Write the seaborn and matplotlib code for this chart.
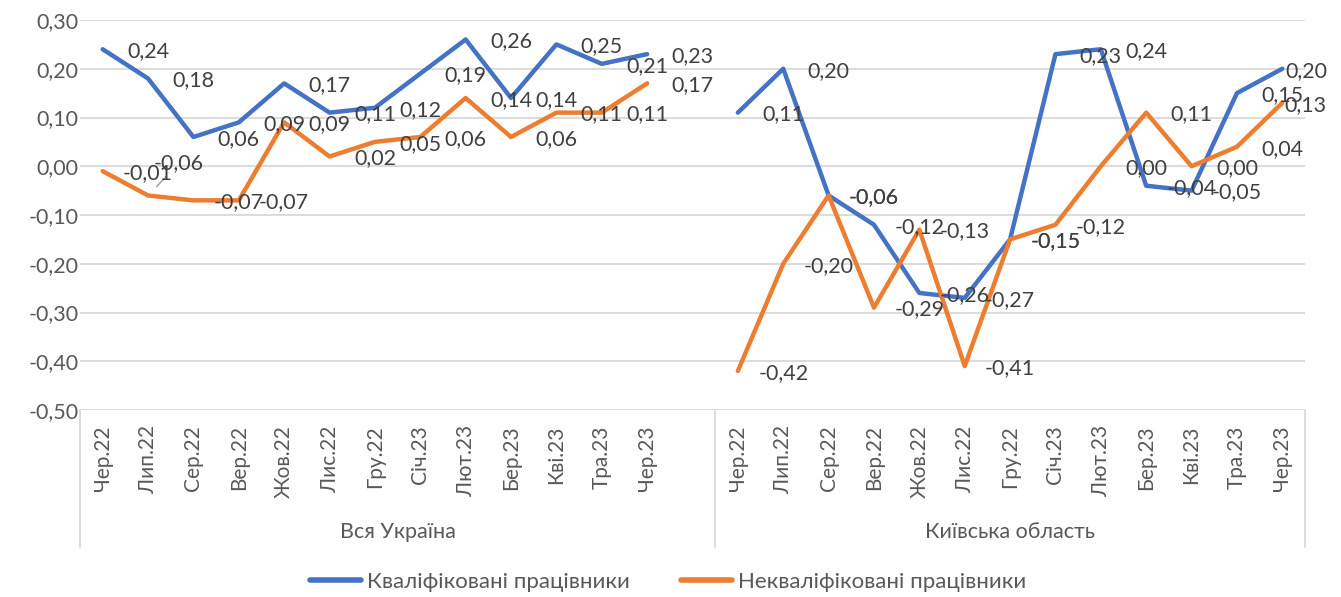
import matplotlib
matplotlib.use('Agg')
import matplotlib.pyplot as plt
import seaborn as sns
import numpy as np
import pandas as pd
from matplotlib.lines import Line2D
from matplotlib.transforms import blended_transform_factory

months = ['Чер.22', 'Лип.22', 'Сер.22', 'Вер.22', 'Жов.22', 'Лис.22', 'Гру.22',
          'Січ.23', 'Лют.23', 'Бер.23', 'Кві.23', 'Тра.23', 'Чер.23']
regions = ['Вся Україна', 'Київська область']
series = ['Кваліфіковані працівники', 'Некваліфіковані працівники']

ukr_skilled = [0.24, 0.18, 0.06, 0.09, 0.17, 0.11, 0.12, 0.19, 0.26, 0.14, 0.25, 0.21, 0.23]
ukr_unskilled = [-0.01, -0.06, -0.07, -0.07, 0.09, 0.02, 0.05, 0.06, 0.14, 0.06, 0.11, 0.11, 0.17]
kyiv_skilled = [0.11, 0.20, -0.06, -0.12, -0.26, -0.27, -0.15, 0.23, 0.24, -0.04, -0.05, 0.15, 0.20]
kyiv_unskilled = [-0.42, -0.20, -0.06, -0.29, -0.13, -0.41, -0.15, -0.12, 0.00, 0.11, 0.00, 0.04, 0.13]

blue = '#4472C4'
orange = '#ED7D31'
grid_c = '#D9D9D9'
txt_c = '#595959'
lbl_c = '#404040'


def fmt(v):
    # excel style number with comma, no "-0,00"
    v = round(v, 2)
    if v == 0:
        v = 0.0
    return f'{v:.2f}'.replace('.', ',')


# each region gets 13 months, the first group has one empty slot at its end
n = len(months)
rows = []
for r, (sk, un) in enumerate([(ukr_skilled, ukr_unskilled), (kyiv_skilled, kyiv_unskilled)]):
    for i in range(n):
        pos = r * (n + 1) + i
        rows.append((pos, sk[i], series[0], regions[r]))
        rows.append((pos, un[i], series[1], regions[r]))
df = pd.DataFrame(rows, columns=['pos', 'value', 'series', 'region'])

sns.set_style('white')
plt.rcParams['font.family'] = ['Lato', 'DejaVu Sans']

fig = plt.figure(figsize=(13.41, 5.97), dpi=100)
ax = fig.add_axes([80 / 1341, 1 - 410 / 597, 1225 / 1341, 390 / 597])

sns.lineplot(data=df, x='pos', y='value', hue='series', units='region', estimator=None,
             palette=[blue, orange], linewidth=3.2, legend=False, ax=ax, zorder=3)

x_end = 2 * n + 0.5
ax.set_xlim(-0.5, x_end)
ax.set_ylim(-0.5, 0.3)
yt = np.round(np.arange(-0.5, 0.301, 0.1), 2)
ax.set_yticks(yt)
ax.set_yticklabels([fmt(v) for v in yt], color=txt_c, fontsize=15.5)
ax.yaxis.grid(True, color=grid_c, linewidth=1.3)
ax.set_axisbelow(True)
for s in ax.spines.values():
    s.set_visible(False)

ticks = list(range(n)) + list(range(n + 1, 2 * n + 1))
ax.set_xticks(ticks)
ax.set_xticklabels(months * 2, rotation=90, color=txt_c, fontsize=15, va='top')
ax.tick_params(axis='x', length=0, pad=11)
ax.tick_params(axis='y', length=0, pad=1)
ax.set_xlabel('')
ax.set_ylabel('')

# data labels, one category to the right of each point (like Excel did it)
xmax = x_end + 0.02
for _, row in df.iterrows():
    txt = fmt(row.value)
    if row.region == regions[0] and row.series == series[1] and row.pos == 1:
        ax.annotate(txt, (row.pos, row.value), xytext=(22, 23), textcoords='offset points',
                    ha='center', va='center', fontsize=15.5, color=lbl_c,
                    arrowprops=dict(arrowstyle='-', color='#A6A6A6', lw=1.2, shrinkA=0, shrinkB=9))
        continue
    lx = min(row.pos + 1, xmax)
    ax.text(lx, row.value - 0.004, txt, ha='center', va='center', fontsize=15.5, color=lbl_c,
            zorder=4, clip_on=False)

# multi-level category axis
tr = blended_transform_factory(ax.transData, ax.transAxes)
for xb in [-0.5, n + 0.5, x_end]:
    ax.add_line(Line2D([xb, xb], [0, -0.352], transform=tr, color=grid_c, lw=1.3, clip_on=False))
ax.text(n / 2, -0.313, regions[0], transform=tr, ha='center', va='center',
        fontsize=15.5, color=txt_c)
ax.text((n + 0.5 + x_end) / 2, -0.313, regions[1], transform=tr, ha='center',
        va='center', fontsize=15.5, color=txt_c)

handles = [Line2D([], [], color=blue, lw=4), Line2D([], [], color=orange, lw=4)]
fig.legend(handles, series, loc='center', bbox_to_anchor=(668 / 1341, 1 - 582 / 597), ncol=2,
           frameon=False, fontsize=16, handlelength=2.3, handletextpad=0.25, columnspacing=2.3,
           labelcolor=txt_c)

fig.savefig('out.png', dpi=100)
